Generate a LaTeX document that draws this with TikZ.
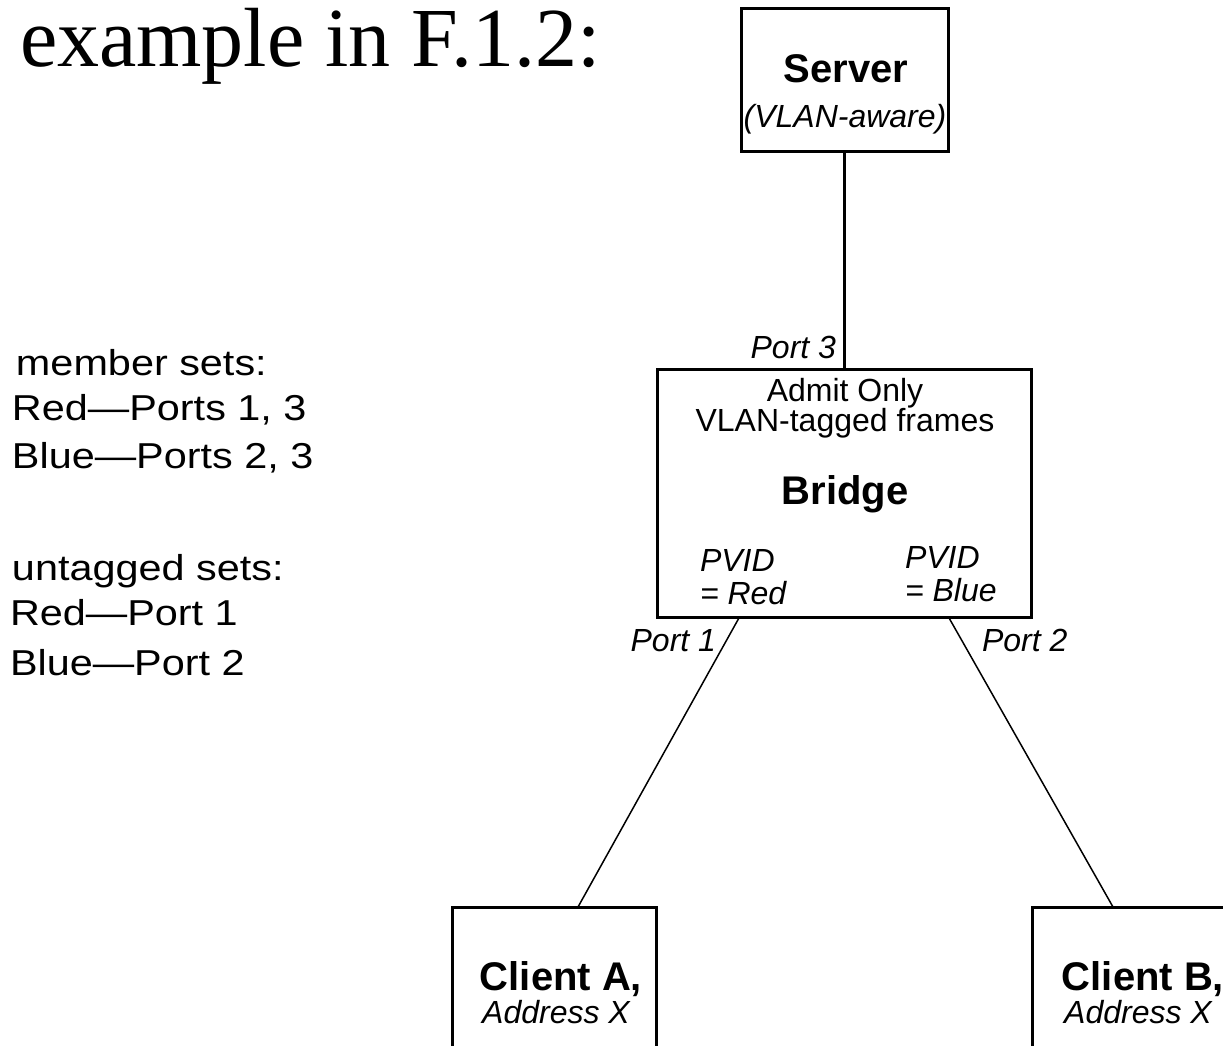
\documentclass[tikz,border=0pt]{standalone}
\usepackage{fontspec}
\setmainfont{Liberation Sans}
\newfontfamily\titlefont{Liberation Serif}
\newfontfamily\setsfont{Liberation Sans}[FakeStretch=1.15]
\usetikzlibrary{positioning}

\begin{document}
\begin{tikzpicture}[x=1pt, y=-1pt, inner sep=0pt, outer sep=0pt,
	box/.style = {draw, line width=3pt, minimum width=#1},
	txt/.style = {font=\fontsize{32}{38}\selectfont, anchor=base},
	lbl/.style = {font=\fontsize{32}{38}\selectfont\itshape},
	big/.style = {font=\fontsize{40}{48}\selectfont\bfseries, anchor=base},
	sets/.style = {font=\setsfont\fontsize{36}{42}\selectfont, anchor=base west},
	link/.style = {line width=1.5pt}]
	\useasboundingbox (0,0) rectangle (1223,1046);
	\node[font=\titlefont\fontsize{84}{100}\selectfont, anchor=base west] (title) at (20,67) {example in F.1.2:};
	\node[box=207pt, minimum height=142pt] (srv) at (844.5,80) {};
	\node[box=374pt, minimum height=248pt] (br) at (844.5,493) {};
	\node[box=204pt, minimum height=200pt] (ca) at (554,1007) {};
	\node[box=204pt, minimum height=200pt] (cb) at (1134,1007) {};
	\node[big] (srvname) at (846,83) {Server};
	\node[lbl, anchor=base] (srvnote) at (845,128) {(VLAN-aware)};
	\node[txt] (admit) at (845,401) {Admit Only};
	\node[txt] (tagged) at (845,431) {VLAN-tagged frames};
	\node[big] (brname) at (845,504) {Bridge};
	\node[lbl, anchor=base west] (pvid1) at (700,571) {PVID};
	\node[lbl, anchor=base west] (red) at (700,604) {= Red};
	\node[lbl, anchor=base west] (pvid2) at (905,568) {PVID};
	\node[lbl, anchor=base west] (blue) at (905,601) {= Blue};
	\node[big] (canme) at (561,990) {Client A,};
	\node[lbl, anchor=base] (caaddr) at (556,1023) {Address X};
	\node[big] (cbname) at (1143,990) {Client B,};
	\node[lbl, anchor=base] (cbaddr) at (1138,1023) {Address X};
	\node[lbl, anchor=base east] (port3) at (836,358) {Port 3};
	\node[lbl, anchor=base east] (port1) at (716,651) {Port 1};
	\node[lbl, anchor=base west] (port2) at (982,651) {Port 2};
	\node[sets] (mset) at (16,375) {member sets:};
	\node[sets] (mred) at (12,420) {Red—Ports 1, 3};
	\node[sets] (mblue) at (12,468) {Blue—Ports 2, 3};
	\node[sets] (uset) at (12,580) {untagged sets:};
	\node[sets] (ured) at (10,625) {Red—Port 1};
	\node[sets] (ublue) at (10,675) {Blue—Port 2};
	\coordinate (p1) at ([xshift=-105pt]br.south);
	\coordinate (p2) at ([xshift=104pt]br.south);
	\coordinate (a1) at ([xshift=24pt]ca.north);
	\coordinate (b1) at ([xshift=-21pt]cb.north);
	\draw[line width=3pt] (srv) -- (br);
	\draw[link] (p1) -- (a1);
	\draw[link] (p2) -- (b1);
\end{tikzpicture}
\end{document}
